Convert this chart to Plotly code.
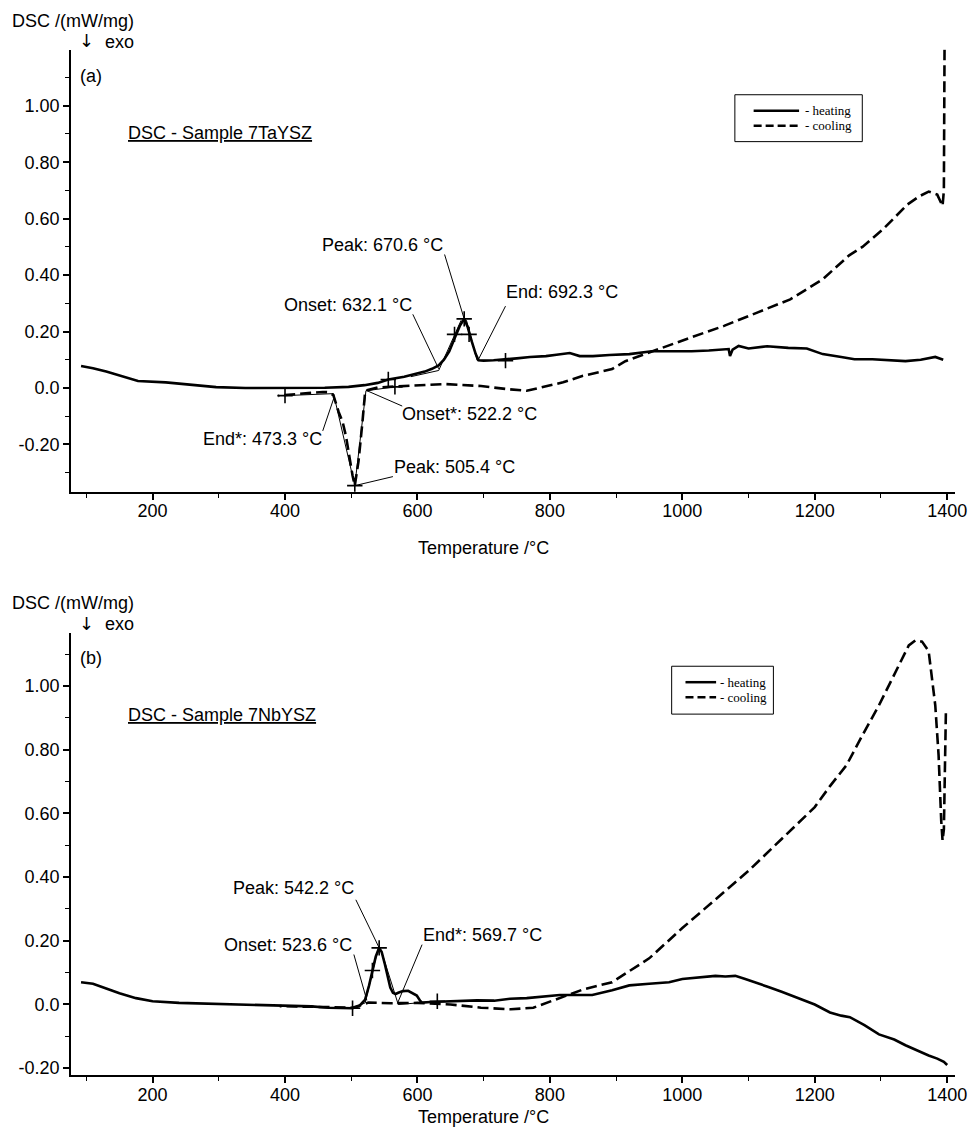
import plotly.graph_objects as go

# ---------------- panel (a): sample 7TaYSZ ----------------
ta_heat_T = [92, 110, 130, 150, 178, 220, 260, 296, 340, 380, 420, 460, 496, 520, 540, 556,
             580, 600, 611, 622, 632, 640, 648, 656, 664, 670.6, 676, 682, 688, 692.3, 700,
             715, 730, 750, 770, 794, 810, 830, 845, 865, 890, 920, 954, 985, 1014, 1040,
             1060, 1070, 1072, 1076, 1085, 1100, 1128, 1160, 1188, 1200, 1212, 1240, 1260,
             1287, 1310, 1337, 1360, 1382, 1394]
ta_heat_dsc = [0.078, 0.070, 0.058, 0.045, 0.025, 0.020, 0.012, 0.003, 0.0, 0.0, 0.0, 0.001,
               0.004, 0.010, 0.018, 0.030, 0.040, 0.050, 0.058, 0.068, 0.080, 0.100, 0.130,
               0.175, 0.220, 0.245, 0.215, 0.165, 0.120, 0.098, 0.097, 0.098, 0.100, 0.105,
               0.110, 0.113, 0.118, 0.124, 0.113, 0.113, 0.117, 0.120, 0.130, 0.130, 0.130,
               0.133, 0.136, 0.138, 0.113, 0.136, 0.149, 0.140, 0.148, 0.142, 0.140, 0.130,
               0.120, 0.110, 0.102, 0.102, 0.098, 0.095, 0.100, 0.110, 0.100]

ta_cool_T = [1396, 1396, 1395, 1393, 1390, 1385, 1372, 1357, 1340, 1327, 1302, 1272, 1252,
             1212, 1163, 1114, 1063, 1014, 965, 914, 894, 865, 850, 820, 794, 765, 735, 696,
             641, 581, 566, 540, 524, 521, 517, 511, 505.4, 502, 497, 492, 487, 481, 473,
             465, 457, 430, 417, 400, 390]
ta_cool_dsc = [1.20, 0.90, 0.70, 0.645, 0.660, 0.685, 0.696, 0.678, 0.650, 0.620, 0.560,
               0.500, 0.470, 0.385, 0.314, 0.268, 0.220, 0.180, 0.138, 0.095, 0.067, 0.050,
               0.043, 0.020, 0.007, -0.010, -0.004, 0.007, 0.014, 0.007, 0.005, 0.002,
               -0.008, -0.014, -0.120, -0.260, -0.346, -0.310, -0.240, -0.170, -0.120,
               -0.085, -0.025, -0.015, -0.014, -0.018, -0.020, -0.025, -0.028]

# evaluation marks (+) and tangent constructions
ta_mark_T = [400, 556, 566, 656, 678, 670.6, 733, 505.4]
ta_mark_dsc = [-0.027, 0.030, 0.004, 0.190, 0.190, 0.245, 0.097, -0.346]
ta_tangents = [
    [(590, 0.040), (632.1, 0.062)],
    [(632.1, 0.062), (666, 0.240)],
    [(674, 0.240), (690, 0.098)],
    [(690, 0.098), (733, 0.097)],
    [(400, -0.027), (473.3, -0.020)],
    [(473.3, -0.020), (505.4, -0.346)],
    [(505.4, -0.346), (522.2, -0.010)],
    [(522.2, -0.010), (566, 0.004)],
]

# evaluation labels: text and the point each one marks
ta_labels = ["Peak: 670.6 °C", "Onset: 632.1 °C", "End: 692.3 °C",
             "Onset*: 522.2 °C", "End*: 473.3 °C", "Peak: 505.4 °C"]
ta_label_T = [670.6, 632.1, 692.3, 522.2, 473.3, 505.4]
ta_label_dsc = [0.245, 0.068, 0.102, -0.008, -0.039, -0.346]

# ---------------- panel (b): sample 7NbYSZ ----------------
nb_heat_T = [92, 110, 130, 150, 175, 200, 240, 280, 320, 360, 400, 440, 466, 490, 502, 512,
             521, 527, 532, 537, 542.2, 546, 551, 556, 559, 563, 567, 571, 578, 586, 594,
             599, 604, 607, 620, 640, 666, 690, 716, 740, 765, 790, 815, 840, 864, 894, 920,
             950, 980, 1000, 1030, 1050, 1065, 1080, 1095, 1110, 1130, 1150, 1175, 1200,
             1223, 1240, 1253, 1275, 1297, 1320, 1337, 1355, 1372, 1385, 1395, 1400]
nb_heat_dsc = [0.070, 0.065, 0.050, 0.035, 0.020, 0.010, 0.005, 0.003, 0.0, -0.002, -0.003,
               -0.006, -0.010, -0.010, -0.012, -0.005, 0.015, 0.060, 0.107, 0.150, 0.178,
               0.165, 0.125, 0.080, 0.053, 0.037, 0.033, 0.037, 0.042, 0.043, 0.035, 0.028,
               0.012, 0.006, 0.008, 0.010, 0.012, 0.013, 0.012, 0.018, 0.020, 0.025, 0.030,
               0.030, 0.030, 0.045, 0.060, 0.065, 0.070, 0.080, 0.085, 0.090, 0.088, 0.090,
               0.080, 0.070, 0.055, 0.040, 0.020, 0.0, -0.025, -0.035, -0.040, -0.065,
               -0.094, -0.110, -0.128, -0.145, -0.160, -0.170, -0.180, -0.190]

nb_cool_T = [1398, 1397, 1396, 1395, 1393, 1391, 1389, 1387, 1382, 1376, 1372, 1362, 1352,
             1342, 1323, 1297, 1272, 1248, 1223, 1200, 1150, 1100, 1050, 1000, 950, 894,
             850, 810, 775, 741, 696, 650, 600, 560, 526, 502, 466, 430, 400, 392]
nb_cool_dsc = [0.915, 0.800, 0.620, 0.550, 0.515, 0.577, 0.680, 0.784, 0.940, 1.047, 1.110,
               1.140, 1.144, 1.128, 1.047, 0.940, 0.846, 0.752, 0.686, 0.620, 0.520, 0.420,
               0.330, 0.240, 0.145, 0.070, 0.047, 0.016, -0.010, -0.015, -0.010, 0.0, 0.005,
               0.004, 0.006, -0.010, -0.008, -0.006, -0.005, -0.005]

nb_mark_T = [502, 532, 542.2, 630]
nb_mark_dsc = [-0.012, 0.107, 0.178, 0.010]
nb_tangents = [
    [(502, -0.012), (521, 0.005)],
    [(521, 0.005), (540, 0.170)],
    [(546, 0.165), (571, 0.0)],
    [(571, 0.0), (607, 0.006)],
]

nb_labels = ["Peak: 542.2 °C", "Onset: 523.6 °C", "End*: 569.7 °C"]
nb_label_T = [542.2, 523.6, 569.7]
nb_label_dsc = [0.178, 0.013, 0.003]

# ---------------- axis ticks ----------------
x_major = [200, 400, 600, 800, 1000, 1200, 1400]
x_minor = [100, 300, 500, 700, 900, 1100, 1300]
ya_major = [-0.2, 0.0, 0.2, 0.4, 0.6, 0.8, 1.0]
ya_text = ["-0.20", "0.0", "0.20", "0.40", "0.60", "0.80", "1.00"]
ya_minor = [-0.3, -0.1, 0.1, 0.3, 0.5, 0.7, 0.9, 1.1]
yb_major = [-0.2, 0.0, 0.2, 0.4, 0.6, 0.8, 1.0]
yb_text = ["-0.20", "0.0", "0.20", "0.40", "0.60", "0.80", "1.00"]
yb_minor = [-0.1, 0.1, 0.3, 0.5, 0.7, 0.9, 1.1]

legend_names = ["- heating", "- cooling"]

W, H = 978, 1138
SANS = "Liberation Sans, Arial, sans-serif"
SERIF = "Liberation Serif, Times New Roman, serif"
BLACK = "#000000"
CURVE_W = 2.6
COOL_DASH = "11px,5px"


def px(x):
    return x / W


def py(y):
    return 1 - y / H


fig = go.Figure()


def add_panel(xa, ya, heat_T, heat_d, cool_T, cool_d, mark_T, mark_d, tangents):
    fig.add_trace(go.Scatter(x=heat_T, y=heat_d, mode="lines", name=legend_names[0],
                             line=dict(color=BLACK, width=CURVE_W), xaxis=xa, yaxis=ya,
                             showlegend=False))
    fig.add_trace(go.Scatter(x=cool_T, y=cool_d, mode="lines", name=legend_names[1],
                             line=dict(color=BLACK, width=CURVE_W, dash=COOL_DASH),
                             xaxis=xa, yaxis=ya, showlegend=False))
    for seg in tangents:
        fig.add_trace(go.Scatter(x=[seg[0][0], seg[1][0]], y=[seg[0][1], seg[1][1]],
                                 mode="lines", line=dict(color=BLACK, width=1),
                                 xaxis=xa, yaxis=ya, showlegend=False, hoverinfo="skip"))
    fig.add_trace(go.Scatter(x=mark_T, y=mark_d, mode="markers",
                             marker=dict(symbol="cross-thin", size=11,
                                         line=dict(color=BLACK, width=1.6)),
                             xaxis=xa, yaxis=ya, showlegend=False, hoverinfo="skip"))


add_panel("x", "y", ta_heat_T, ta_heat_dsc, ta_cool_T, ta_cool_dsc,
          ta_mark_T, ta_mark_dsc, ta_tangents)
add_panel("x2", "y2", nb_heat_T, nb_heat_dsc, nb_cool_T, nb_cool_dsc,
          nb_mark_T, nb_mark_dsc, nb_tangents)

# label placement (text centre, leader start) in data units
ta_text_pos = [(547, 0.505), (495, 0.293), (818, 0.339), (678, -0.092), (366, -0.180), (656, -0.279)]
ta_leader_start = [(641, 0.473), (593, 0.261), (733, 0.290), (577, -0.064), (457, -0.152), (563, -0.314)]
nb_text_pos = [(413, 0.367), (404, 0.188), (698, 0.219)]
nb_leader_start = [(507, 0.329), (504, 0.157), (607, 0.188)]

annotations = []
shapes = []


def add_labels(xa, ya, texts, pts_T, pts_d, text_pos, starts):
    for t, xT, yD, tp, st in zip(texts, pts_T, pts_d, text_pos, starts):
        fig.add_trace(go.Scatter(x=[st[0], xT], y=[st[1], yD], mode="lines",
                                 line=dict(color=BLACK, width=1), xaxis=xa, yaxis=ya,
                                 showlegend=False, hoverinfo="skip"))
        annotations.append(dict(x=tp[0], y=tp[1], xref=xa, yref=ya, text=t, showarrow=False,
                                xanchor="center", yanchor="middle",
                                font=dict(family=SANS, size=18, color=BLACK)))


add_labels("x", "y", ta_labels, ta_label_T, ta_label_dsc, ta_text_pos, ta_leader_start)
add_labels("x2", "y2", nb_labels, nb_label_T, nb_label_dsc, nb_text_pos, nb_leader_start)


def text(x, y, s, size=18, anchor="center", family=SANS):
    annotations.append(dict(x=px(x), y=py(y), xref="paper", yref="paper", text=s,
                            showarrow=False, xanchor=anchor, yanchor="middle",
                            font=dict(family=family, size=size, color=BLACK)))


def legend_box(x0, x1, y0, y1, line_x0, line_x1, text_x):
    shapes.append(dict(type="rect", xref="paper", yref="paper",
                       x0=px(x0), x1=px(x1), y0=py(y1), y1=py(y0),
                       line=dict(color=BLACK, width=1), fillcolor="white", layer="above"))
    rows = [(y0 + 16, None), (y0 + 31, "8px,4px")]
    for (yy, dash), name in zip(rows, legend_names):
        ln = dict(color=BLACK, width=2.5)
        if dash:
            ln["dash"] = dash
        shapes.append(dict(type="line", xref="paper", yref="paper", x0=px(line_x0),
                           x1=px(line_x1), y0=py(yy), y1=py(yy), line=ln, layer="above"))
        text(text_x, yy, name, size=13, anchor="left", family=SERIF)


legend_box(744, 873, 95, 142, 763, 809, 813)
legend_box(680, 783, 668, 716, 694, 725, 727)

panel_text = [(0, "(a)", "DSC - Sample 7TaYSZ"), (584, "(b)", "DSC - Sample 7NbYSZ")]
for off, tag, title in panel_text:
    text(74, 21 + off, "DSC /(mW/mg)")
    text(88, 41 + off, "↓", size=18, family="DejaVu Sans, sans-serif")
    text(104, 42 + off, "exo", anchor="left")
    text(79, 76 + off, tag, anchor="left")
    text(128, 133 + off, "<u>" + title + "</u>", anchor="left")

text(490, 549, "Temperature /°C")
text(490, 1120, "Temperature /°C")

axis_common = dict(showline=True, linecolor=BLACK, linewidth=2, ticks="outside", ticklen=6,
                   tickwidth=1.5, tickcolor=BLACK, showgrid=False, zeroline=False,
                   tickfont=dict(family=SANS, size=18, color=BLACK))
minor_style = dict(ticks="outside", ticklen=4, tickcolor=BLACK, tickwidth=1.2)

x_dom = [px(72), px(967)]
fig.update_layout(
    width=W, height=H, autosize=False,
    margin=dict(l=0, r=0, t=0, b=0),
    paper_bgcolor="white", plot_bgcolor="white",
    showlegend=False,
    xaxis=dict(domain=x_dom, range=[77, 1412], anchor="y", tickmode="array",
               tickvals=x_major, ticklabelstandoff=-4, ticklabeloverflow="allow",
               minor=dict(tickvals=x_minor, **minor_style), **axis_common),
    yaxis=dict(domain=[py(493), py(50)], range=[-0.3675, 1.198], anchor="x",
               tickmode="array", tickvals=ya_major, ticktext=ya_text,
               ticklabeloverflow="allow",
               minor=dict(tickvals=ya_minor, **minor_style), **axis_common),
    xaxis2=dict(domain=x_dom, range=[77, 1412], anchor="y2", tickmode="array",
                tickvals=x_major, ticklabelstandoff=-4, ticklabeloverflow="allow",
                minor=dict(tickvals=x_minor, **minor_style), **axis_common),
    yaxis2=dict(domain=[py(1078), py(635)], range=[-0.222, 1.166], anchor="x2",
                tickmode="array", tickvals=yb_major, ticktext=yb_text,
                ticklabeloverflow="allow",
                minor=dict(tickvals=yb_minor, **minor_style), **axis_common),
    annotations=annotations,
    shapes=shapes,
)

fig.write_html("out.html")
